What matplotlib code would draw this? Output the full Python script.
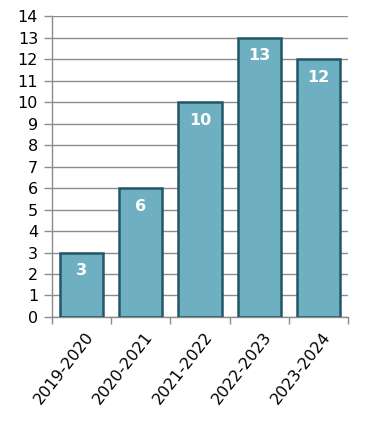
import matplotlib.pyplot as plt
import numpy as np

seasons = ["2019-2020", "2020-2021", "2021-2022", "2022-2023", "2023-2024"]
counts = [3, 6, 10, 13, 12]

plt.rcParams["font.family"] = ["DejaVu Sans"]

fig = plt.figure(figsize=(3.9, 4.24), dpi=100)
ax = fig.add_axes([0.1333, 0.2524, 0.7590, 0.7096])

x = np.arange(len(seasons))
bars = ax.bar(x, counts, width=0.73, color="#6FAFC2", edgecolor="#215868",
              linewidth=1.8, zorder=3)

for b, v in zip(bars, counts):
    ax.text(b.get_x() + b.get_width() / 2, v - 0.85, str(v), ha="center",
            va="center", color="white", fontsize=11.5, fontweight="bold", zorder=4)

ax.set_xlim(-0.5, len(seasons) - 0.5)
ax.set_ylim(0, 14)
ax.set_yticks(range(0, 15))
ax.yaxis.grid(True, color="#8c8c8c", linewidth=1, zorder=0)
ax.set_axisbelow(True)

ax.set_xticks(np.arange(-0.5, len(seasons), 1.0), minor=False)
ax.set_xticklabels([])
ax.set_xticks(x + 0.06, minor=True)
ax.set_xticklabels(seasons, minor=True, rotation=52, ha="right",
                   rotation_mode="anchor", fontsize=11.5)
ax.tick_params(axis="x", which="minor", length=0, pad=9)
ax.tick_params(axis="x", which="major", length=5, color="#8c8c8c", width=1)
ax.tick_params(axis="y", length=6, color="#8c8c8c", width=1, labelsize=11.5, pad=4)

for s in ["top", "right"]:
    ax.spines[s].set_visible(False)
for s in ["left", "bottom"]:
    ax.spines[s].set_color("#8c8c8c")
    ax.spines[s].set_linewidth(1)

fig.savefig("out.png", dpi=100)
